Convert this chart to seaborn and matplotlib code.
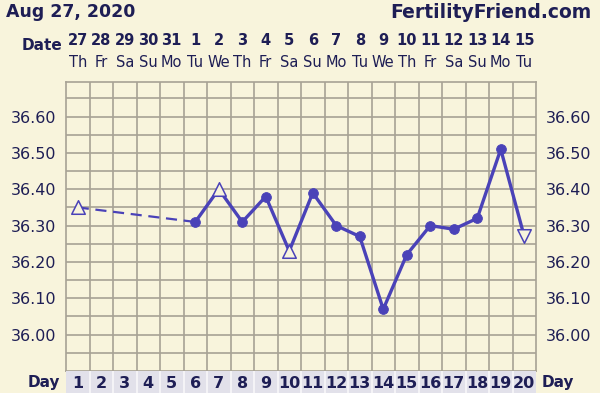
import numpy as np
import pandas as pd
import matplotlib
matplotlib.use("Agg")
import matplotlib.pyplot as plt
import seaborn as sns

# chart values
days = list(range(1, 21))
dates = ["27", "28", "29", "30", "31", "1", "2", "3", "4", "5",
         "6", "7", "8", "9", "10", "11", "12", "13", "14", "15"]
weekdays = ["Th", "Fr", "Sa", "Su", "Mo", "Tu", "We", "Th", "Fr", "Sa",
            "Su", "Mo", "Tu", "We", "Th", "Fr", "Sa", "Su", "Mo", "Tu"]
temp_days = [1, 6, 7, 8, 9, 10, 11, 12, 13, 14, 15, 16, 17, 18, 19, 20]
temps = [36.35, 36.31, 36.40, 36.31, 36.38, 36.23, 36.39, 36.30, 36.27,
         36.07, 36.22, 36.30, 36.29, 36.32, 36.51, 36.27]
markers = ["up", "dot", "up", "dot", "dot", "up", "dot", "dot", "dot",
           "dot", "dot", "dot", "dot", "dot", "dot", "down"]
ytick_vals = [36.00, 36.10, 36.20, 36.30, 36.40, 36.50, 36.60]

sns.set_style("white")
plt.rcParams['font.family'] = ['DejaVu Sans']

bg = "#f8f4dc"
navy = "#1e1e55"
line_c = "#4a42b8"
grid_c = "#a7a294"

df = pd.DataFrame({"day": temp_days, "temp": temps, "mk": markers})

W, H = 600, 393
fig = plt.figure(figsize=(6, 3.93), dpi=100, facecolor=bg)
x0, x1, ytop, ybot = 66, 536, 82, 371
ax = fig.add_axes([x0 / W, 1 - ybot / H, (x1 - x0) / W, (ybot - ytop) / H])
ax.set_facecolor(bg)
ax.set_xlim(0.5, 20.5)
ax.set_ylim(35.90, 36.695)

for d in np.arange(1.5, 20.5, 1):
    ax.axvline(d, color=grid_c, lw=1.2, zorder=0)
for v in np.arange(35.95, 36.70, 0.05):
    ax.axhline(v, color=grid_c, lw=1.2, zorder=0)
for s in ax.spines.values():
    s.set_color(grid_c)
    s.set_linewidth(1.2)

# dashed part before the gap, solid part after
sns.lineplot(data=df.iloc[:2], x="day", y="temp", ax=ax, color=line_c,
             lw=1.6, linestyle=(0, (5, 3)), zorder=2)
sns.lineplot(data=df.iloc[1:], x="day", y="temp", ax=ax, color=line_c,
             lw=2.4, zorder=2)
dots = df[df.mk == "dot"]
ups = df[df.mk == "up"]
downs = df[df.mk == "down"]
sns.scatterplot(data=dots, x="day", y="temp", ax=ax, color=line_c, s=50,
                edgecolor=line_c, zorder=3)
ax.scatter(ups["day"], ups["temp"], marker="^", s=95, facecolors=bg,
           edgecolors=line_c, linewidths=1.1, zorder=5)
ax.scatter(downs["day"], downs["temp"], marker="v", s=95, facecolors=bg,
           edgecolors=line_c, linewidths=1.1, zorder=5)

ax.set_xticks([])
ax.set_yticks(ytick_vals)
ax.set_yticklabels([f"{v:.2f}" for v in ytick_vals], fontsize=11.5, color=navy)
ax.tick_params(axis="y", length=0, pad=7, labelright=True, right=False)
ax.set_xlabel("")
ax.set_ylabel("")
for lab in ax.get_yticklabels():
    lab.set_color(navy)

# header rows
trans = ax.get_xaxis_transform()
for d, dt, wd in zip(days, dates, weekdays):
    ax.text(d, 1 + (82 - 40) / (ybot - ytop), dt, transform=trans, ha="center",
            va="center", fontsize=10.5, fontweight="bold", color=navy)
    ax.text(d, 1 + (82 - 62) / (ybot - ytop), wd, transform=trans, ha="center",
            va="center", fontsize=10.5, color=navy)
fig.text(62 / W, 1 - 46 / H, "Date", ha="right", va="center", fontsize=11,
         fontweight="bold", color=navy)
fig.text(6 / W, 1 - 12 / H, "Aug 27, 2020", ha="left", va="center",
         fontsize=12.5, fontweight="bold", color=navy)
fig.text(592 / W, 1 - 12 / H, "FertilityFriend.com", ha="right", va="center",
         fontsize=13.5, fontweight="bold", color=navy)

# day number row
dax = fig.add_axes([x0 / W, 0, (x1 - x0) / W, (H - ybot) / H])
dax.set_xlim(0.5, 20.5)
dax.set_ylim(0, 1)
dax.set_facecolor("#e2e1ea")
for d in np.arange(1.5, 20.5, 1):
    dax.axvline(d, color="#f4f3f6", lw=1.5)
for s in dax.spines.values():
    s.set_visible(False)
dax.set_xticks([])
dax.set_yticks([])
for d in days:
    dax.text(d, 0.45, str(d), ha="center", va="center", fontsize=11.5,
             fontweight="bold", color=navy)
fig.text(60 / W, 1 - 382 / H, "Day", ha="right", va="center", fontsize=11,
         fontweight="bold", color=navy)
fig.text(542 / W, 1 - 382 / H, "Day", ha="left", va="center", fontsize=11,
         fontweight="bold", color=navy)

fig.savefig("out.png", dpi=100, facecolor=bg)
